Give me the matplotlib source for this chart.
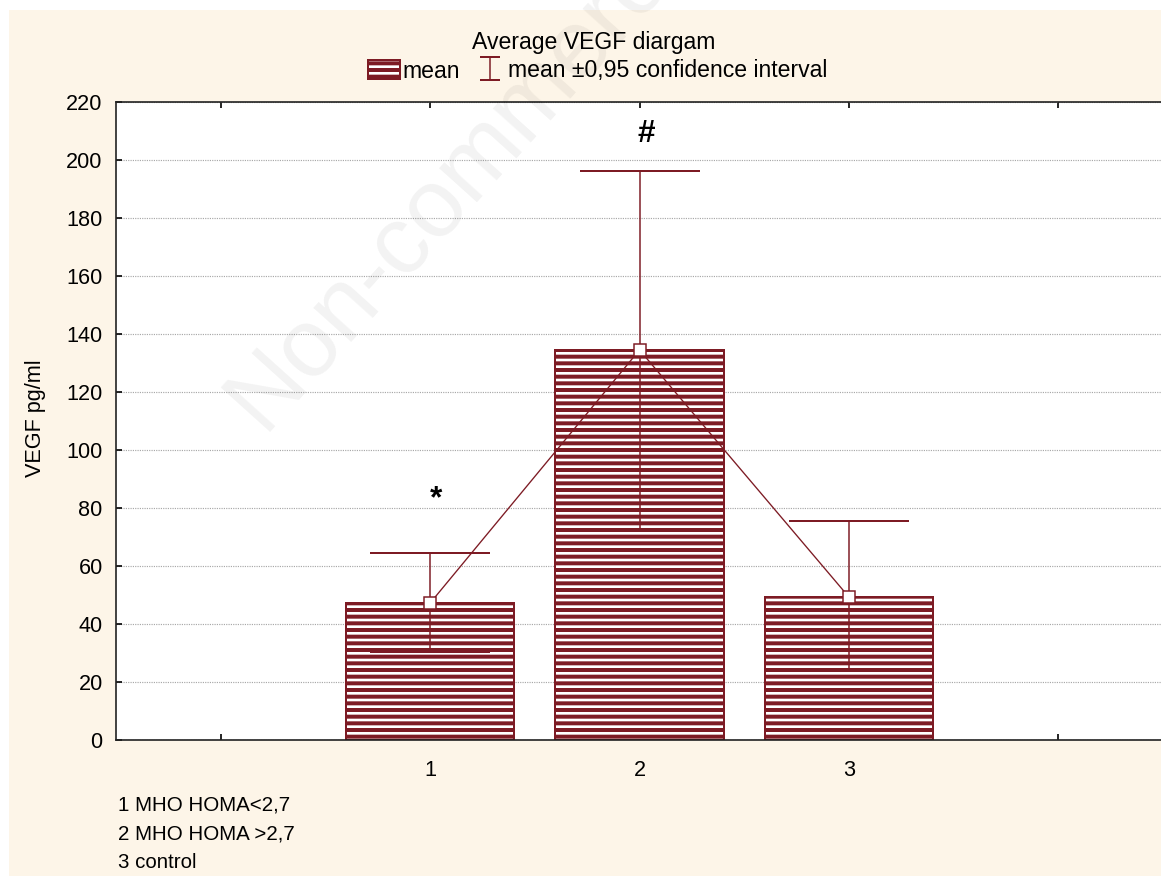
import matplotlib
matplotlib.use("Agg")
import matplotlib.pyplot as plt
from matplotlib.patches import Rectangle

# data
groups = [1, 2, 3]
means = [47.2, 134.5, 49.3]
ci_low = [30.3, 72.0, 24.1]
ci_high = [64.5, 196.2, 75.5]
marks = ["*", "#", ""]
mark_y = [83, 209, 0]
footnotes = ["1 MHO HOMA<2,7", "2 MHO HOMA >2,7", "3 control"]

RED = "#7d1b24"
BG = "#fdf5e8"

plt.rcParams["font.family"] = ["Liberation Sans", "DejaVu Sans"]
plt.rcParams["hatch.linewidth"] = 2.4

W, H, DPI = 1161, 878, 120
fig = plt.figure(figsize=(W / DPI, H / DPI), dpi=DPI, facecolor="white")
# beige panel (thin white margin around, as in the screenshot)
fig.patches.append(Rectangle((9 / W, 2 / H), 1, 1 - 12 / H, transform=fig.transFigure,
                             facecolor=BG, edgecolor="none", zorder=-10))

ax = fig.add_axes([116 / W, 1 - 740 / H, (1163 - 116) / W, (740 - 102) / H])
ax.set_facecolor("white")

bars = ax.bar(groups, means, width=0.805, facecolor="white", edgecolor=RED,
              hatch="---", linewidth=1.2, zorder=2, label="mean")

yerr = [[m - lo for m, lo in zip(means, ci_low)],
        [hi - m for m, hi in zip(means, ci_high)]]
ax.errorbar(groups, means, yerr=yerr, fmt="none", ecolor=RED, elinewidth=0.9,
            capsize=36, capthick=1.2, zorder=3)
ax.plot(groups, means, color=RED, linewidth=0.8, zorder=3)
ax.plot(groups, means, linestyle="none", marker="s", markersize=7,
        markerfacecolor="white", markeredgecolor=RED, markeredgewidth=0.9, zorder=4)

# legend handle for the confidence interval
eb_leg = ax.errorbar([float("nan")], [float("nan")], yerr=[1], fmt="none", ecolor=RED,
                     elinewidth=0.9, capsize=6, capthick=1.2,
                     label="mean \u00b10,95 confidence interval")

for g, s, y in zip(groups, marks, mark_y):
    if s:
        ax.text(g + 0.03, y, s, ha="center", va="center", fontsize=19,
                fontweight="bold", color="black")

ax.set_xlim(-0.5, 4.5)
ax.set_ylim(0, 220)
ax.set_yticks(range(0, 221, 20))
ax.set_xticks([0, 1, 2, 3, 4])
ax.set_xticklabels(["", "1", "2", "3", ""])
ax.tick_params(direction="in", length=3.5, width=1, labelsize=13, colors="black",
               top=True, pad=12)
ax.tick_params(axis="y", pad=8)
ax.yaxis.grid(True, linestyle=(0, (1, 1)), color="#a8a8a8", linewidth=0.7)
ax.set_axisbelow(True)
for side in ["left", "bottom", "top"]:
    ax.spines[side].set_color("#222222")
    ax.spines[side].set_linewidth(1.0)
ax.spines["right"].set_visible(False)

fig.text(594 / W, 1 - 42 / H, "Average VEGF diargam", ha="center", va="center", fontsize=13.8)
fig.legend(handles=[bars, eb_leg], loc="center", bbox_to_anchor=(598 / W, 1 - 71 / H),
           ncol=2, frameon=False, fontsize=13.8, handlelength=1.4, handleheight=0.9,
           handletextpad=0.1, columnspacing=0.6, borderpad=0)
fig.text(35 / W, 1 - 418 / H, "VEGF pg/ml", rotation=90, ha="center", va="center", fontsize=13)

for i, line in enumerate(footnotes):
    fig.text(118 / W, 1 - (805 + 28.5 * i) / H, line, ha="left", va="center", fontsize=12.3)

# faint watermark
fig.text(262 / W, 1 - 432 / H, "Non-commercial", rotation=48, rotation_mode="anchor",
         ha="left", va="baseline", fontsize=58, color="#000000", alpha=0.05, zorder=10)

fig.savefig("out.png", dpi=DPI, facecolor=fig.get_facecolor())
